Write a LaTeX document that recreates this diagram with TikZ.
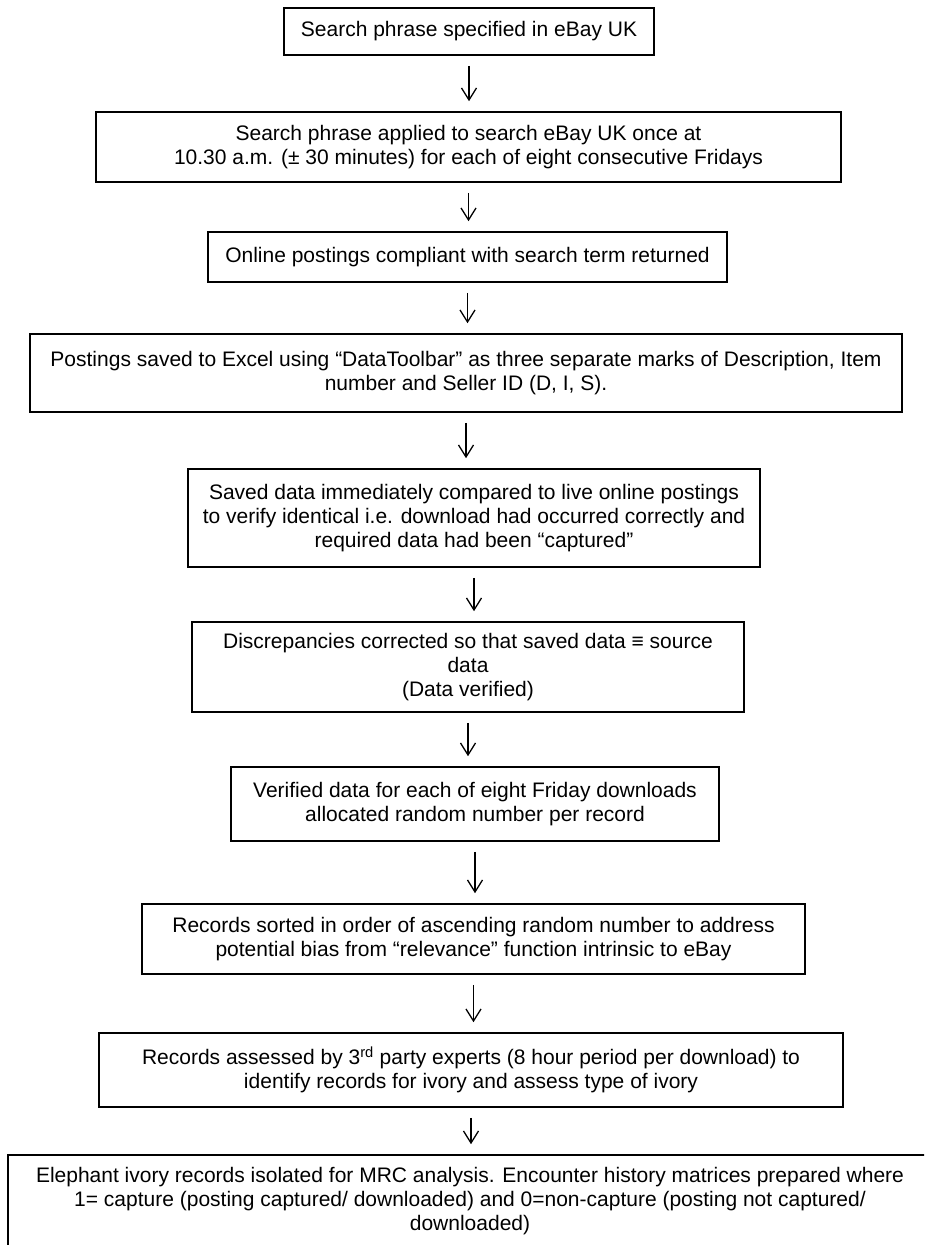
\documentclass[tikz,border=0pt]{standalone}
\usepackage{fontspec}
\setmainfont{Liberation Sans}
\usetikzlibrary{arrows.meta}
\tikzset{
  box/.style={draw=black, line width=1.6pt, rectangle, align=center, inner sep=0pt,
    font=\fontsize{21}{24}\selectfont, text=black},
  arr/.style={-{Straight Barb[length=12pt,width=15pt,line width=1.3pt]}, line width=1.3pt, black}
}
\begin{document}
\begin{tikzpicture}[x=1pt,y=-1pt]
\useasboundingbox (0,0) rectangle (924,1245);
\clip (0,0) rectangle (924,1245);
\node[box, minimum width=370pt, minimum height=47pt] (b1) at (469,31.5)
  {Search phrase specified in eBay UK};
\node[box, minimum width=745pt, minimum height=70pt] (b2) at (468.5,147)
  {Search phrase applied to search eBay UK once at\\10.30 a.m. (± 30 minutes) for each of eight consecutive Fridays};
\node[box, minimum width=519pt, minimum height=50pt] (b3) at (467.5,257)
  {Online postings compliant with search term returned};
\node[box, minimum width=872pt, minimum height=78pt] (b4) at (466,373)
  {Postings saved to Excel using “DataToolbar” as three separate marks of Description, Item\\number and Seller ID (D, I, S).};
\node[box, minimum width=572pt, minimum height=98pt] (b5) at (474,518)
  {Saved data immediately compared to live online postings\\to verify identical i.e. download had occurred correctly and\\required data had been “captured”};
\node[box, minimum width=552pt, minimum height=90pt] (b6) at (468,667)
  {Discrepancies corrected so that saved data ≡ source\\data\\(Data verified)};
\node[box, minimum width=488pt, minimum height=74pt] (b7) at (475,804)
  {Verified data for each of eight Friday downloads\\allocated random number per record};
\node[box, minimum width=663pt, minimum height=70pt] (b8) at (473.5,939)
  {Records sorted in order of ascending random number to address\\potential bias from “relevance” function intrinsic to eBay};
\node[box, minimum width=744pt, minimum height=74pt] (b9) at (471,1070)
  {Records assessed by 3\textsuperscript{rd} party experts (8 hour period per download) to\\identify records for ivory and assess type of ivory};
\node[box, minimum width=924pt, minimum height=92pt] (b10) at (470,1201)
  {Elephant ivory records isolated for MRC analysis. Encounter history matrices prepared where\\1= capture (posting captured/ downloaded) and 0=non-capture (posting not captured/\\downloaded)};
\foreach \a/\b in {b1/b2,b2/b3,b3/b4,b4/b5,b5/b6,b6/b7,b7/b8,b8/b9,b9/b10}
  \draw[arr, shorten <=10pt, shorten >=10pt] (\a.south) -- (\a.south |- \b.north);
\end{tikzpicture}
\end{document}
